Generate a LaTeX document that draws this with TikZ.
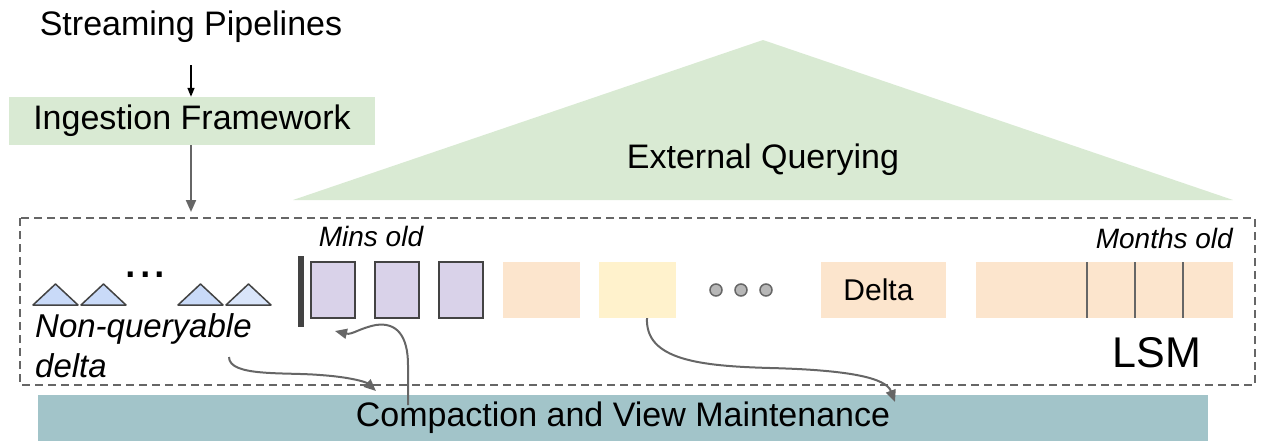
\documentclass[tikz,border=0pt]{standalone}
\usepackage{fontspec}
\setmainfont{Liberation Sans}
\usetikzlibrary{arrows.meta}
\definecolor{querygreen}{HTML}{D9EAD3}
\definecolor{compactteal}{HTML}{A2C4C9}
\definecolor{runpurple}{HTML}{D9D2E9}
\definecolor{deltapeach}{HTML}{FCE5CD}
\definecolor{freshyellow}{HTML}{FFF2CC}
\definecolor{treeblue}{HTML}{C9DAF8}
\definecolor{darkline}{HTML}{434343}
\definecolor{flowgray}{HTML}{666666}
\definecolor{dotgray}{HTML}{B7B7B7}

\begin{document}
\begin{tikzpicture}[
    x=1pt, y=-1pt,
    big_text/.style={font=\fontsize{34}{40}\selectfont, inner sep=0pt},
    age_text/.style={font=\fontsize{28}{32}\selectfont\itshape, inner sep=0pt},
    run_box/.style={draw=darkline, line width=2pt, fill=runpurple, minimum width=44pt, minimum height=56pt, inner sep=0pt},
    flat_box/.style={minimum height=56pt, inner sep=0pt},
    flow/.style={-{Triangle[length=12pt,width=10pt]}, draw=flowgray, line width=2pt}
]
    \useasboundingbox (0,0) rectangle (1270,440);
    % querying roof
    \fill[querygreen] (293,200) -- (763,40) -- (1233,200) -- cycle;
    \node[big_text] (Q) at (763,160) {External Querying};
    % ingestion
    \node[big_text] (SP) at (191,27) {Streaming Pipelines};
    \node[big_text, fill=querygreen, minimum width=366pt, minimum height=48pt] (IF) at (192,121) {\raisebox{-3pt}{Ingestion Framework}};
    \draw[-{Triangle[length=9pt,width=7pt]}, line width=1.5pt] (191,65) -- (IF.north -| 191,0);
    % storage area
    \draw[flowgray, line width=2pt, dash pattern=on 8pt off 5pt] (20,218) rectangle (1255,385);
    \coordinate (box_top) at (191,212);
    \draw[flow] (IF.south -| 191,0) -- (box_top);
    \node[age_text] (mins) at (371,236) {Mins old};
    \node[age_text, anchor=east] (months) at (1233,238) {Months old};
    % non-queryable deltas
    \foreach \x/\c in {33/treeblue, 81/treeblue, 178/treeblue, 226/treeblue!70!white} {
        \draw[darkline, fill=\c, line width=1.5pt, line join=round] (\x,305) -- (\x+22.5,284) -- (\x+45,305) -- cycle;
    }
    \node[font=\fontsize{52}{56}\selectfont, inner sep=0pt, anchor=base] (dots) at (145.5,277) {...};
    \node[font=\fontsize{33}{38}\selectfont\itshape, inner sep=0pt, anchor=west] (nq) at (35,329) {Non-queryable};
    \node[font=\fontsize{33}{38}\selectfont\itshape, inner sep=0pt, anchor=west] (nqd) at (35,366) {delta};
    % queryable runs
    \fill[darkline] (298,256) rectangle (304,327);
    \node[run_box] (R1) at (333,290) {};
    \node[run_box] (R2) at (397,290) {};
    \node[run_box] (R3) at (461,290) {};
    \node[flat_box, fill=deltapeach, minimum width=77pt] (D1) at (541.5,290) {};
    \node[flat_box, fill=freshyellow, minimum width=77pt] (D2) at (637.5,290) {};
    \foreach \x in {716,741,766} {
        \draw[flowgray, fill=dotgray, line width=1.5pt] (\x,290) circle (6);
    }
    \node[flat_box, fill=deltapeach, minimum width=125pt, font=\fontsize{30}{34}\selectfont] (D3) at (883.5,290) {\hspace*{-10pt}\raisebox{-2pt}{Delta}};
    \node[flat_box, fill=deltapeach, minimum width=257pt] (LSM) at (1104.5,290) {};
    \foreach \x in {1087,1135,1183} {
        \draw[flowgray, line width=2pt] (\x,262) -- (\x,318);
    }
    \node[font=\fontsize{43}{50}\selectfont, inner sep=0pt] (lsm_label) at (1157,353) {LSM};
    % compaction
    \node[big_text, fill=compactteal, minimum width=1170pt, minimum height=46pt] (CV) at (623,418) {\raisebox{-3pt}{Compaction and View Maintenance}};
    \coordinate (nq_out) at (229,357);
    \coordinate (cv_left) at (376,391);
    \coordinate (cv_up) at (408,405);
    \coordinate (r1_in) at (335,331);
    \coordinate (d2_out) at (647,318);
    \coordinate (cv_right) at (895,402);
    \draw[flow] (nq_out) .. controls (229,377) and (285,372) .. (320,375) .. controls (350,377) and (366,382) .. (cv_left);
    \draw[flow] (cv_up) -- (408,365) .. controls (408,335) and (396,322) .. (376,325) .. controls (360,328) and (352,335) .. (r1_in);
    \draw[flow] (d2_out) .. controls (645,360) and (700,366) .. (770,368) .. controls (850,370) and (886,378) .. (cv_right);
\end{tikzpicture}
\end{document}
